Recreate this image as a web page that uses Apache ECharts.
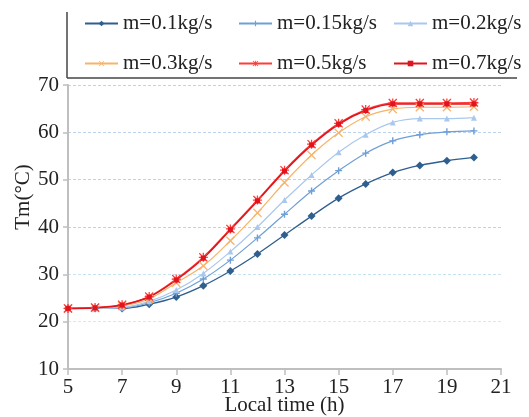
<!DOCTYPE html>
<html>
<head>
<meta charset="utf-8">
<script src="https://cdn.jsdelivr.net/npm/echarts@6/dist/echarts.min.js"></script>
<style>
  html, body { margin: 0; padding: 0; background: #fff; }
  #chart { width: 529px; height: 417px; }
</style>
</head>
<body>
<div id="chart"></div>
<script>
// hours of the day
const hours = [5, 6, 7, 8, 9, 10, 11, 12, 13, 14, 15, 16, 17, 18, 19, 20]
// Tm values for each mass flow
const m01 = [22.8, 22.8, 22.8, 23.7, 25.2, 27.6, 30.7, 34.3, 38.3, 42.3, 46.1, 49.1, 51.5, 53.0, 54.0, 54.7]
const m015 = [22.8, 22.8, 22.9, 24.0, 26.0, 29.0, 33.0, 37.7, 42.7, 47.6, 51.9, 55.6, 58.2, 59.5, 60.1, 60.3]
const m02 = [22.8, 22.8, 23.0, 24.3, 26.7, 30.2, 34.8, 40.0, 45.7, 51.0, 55.8, 59.5, 62.1, 62.9, 62.9, 63.1]
const m03 = [22.8, 22.9, 23.3, 24.8, 28.2, 31.8, 37.1, 43.0, 49.4, 55.2, 59.9, 63.3, 64.9, 65.3, 65.3, 65.4]
const m05 = [22.8, 23.0, 23.6, 25.3, 29.0, 33.6, 39.6, 45.7, 52.0, 57.5, 61.9, 64.8, 66.2, 66.2, 66.2, 66.3]
const m07 = [22.8, 22.9, 23.5, 25.2, 28.8, 33.4, 39.4, 45.5, 51.8, 57.3, 61.7, 64.6, 66.0, 66.0, 66.0, 66.0]
const seriesNames = ['m=0.1kg/s', 'm=0.15kg/s', 'm=0.2kg/s', 'm=0.3kg/s', 'm=0.5kg/s', 'm=0.7kg/s']

const font = '"Liberation Serif", "Times New Roman", serif'
const plusPath = 'path://M4,0H6V4H10V6H6V10H4V6H0V4H4Z'
const crossPath = 'path://M1,0L5,4L9,0L10,1L6,5L10,9L9,10L5,6L1,10L0,9L4,5L0,1Z'
const starPath = 'path://M1,0L5,4L9,0L10,1L6,5L10,9L9,10L5,6L1,10L0,9L4,5L0,1ZM0,4.3H10V5.7H0ZM4.3,0H5.7V10H4.3Z'

const toPairs = arr => arr.map((v, i) => [hours[i], v])

function makeSeries(name, data, color, symbol, size, width) {
    return {
        name,
        type: 'line',
        data: toPairs(data),
        smooth: 0.35,
        symbol,
        symbolSize: size,
        showAllSymbol: true,
        lineStyle: { color, width: width || 1.2 },
        itemStyle: { color },
        z: 2
    }
}

// one legend per entry so the three columns line up like the original
const legendCols = [79, 233, 388]
const legendRows = [8, 48]
const legends = seriesNames.map((name, i) => ({
    data: [name],
    left: legendCols[i % 3],
    top: legendRows[Math.floor(i / 3)],
    itemWidth: 33, itemHeight: 7,
    textStyle: { fontFamily: font, fontSize: 21, color: '#222' }
}))

const chart = echarts.init(document.getElementById('chart'))
const option = {
    animation: false,
    grid: { left: 68, right: 28, top: 85, bottom: 48, outerBoundsMode: 'none', containLabel: false },
    legend: legends,
    graphic: [
        { type: 'line', shape: { x1: 67, y1: 12, x2: 67, y2: 78 }, style: { stroke: '#444', lineWidth: 1.5 } },
        { type: 'line', shape: { x1: 67, y1: 78, x2: 517, y2: 78 }, style: { stroke: '#444', lineWidth: 1.5 } }
    ],
    xAxis: {
        type: 'value',
        min: 5, max: 21, interval: 2,
        name: 'Local time (h)',
        nameLocation: 'middle',
        nameGap: 26,
        nameMoveOverlap: false,
        nameTextStyle: { fontFamily: font, fontSize: 21, color: '#222' },
        axisLine: { lineStyle: { color: '#bfbfbf', width: 2 } },
        axisTick: { show: true, length: 6, lineStyle: { color: '#bfbfbf', width: 1.5 } },
        axisLabel: { fontFamily: font, fontSize: 21, color: '#222', margin: 8 },
        splitLine: { show: false }
    },
    yAxis: {
        type: 'value',
        min: 10, max: 70, interval: 10,
        name: 'Tm(°C)',
        nameLocation: 'middle',
        nameGap: 34,
        nameMoveOverlap: false,
        nameRotate: 90,
        nameTextStyle: { fontFamily: font, fontSize: 21, color: '#222', padding: [0, 0, 0, 60] },
        axisLine: { show: true, lineStyle: { color: '#bfbfbf', width: 2 } },
        axisTick: { show: true, length: 5, lineStyle: { color: '#bfbfbf', width: 1.5 } },
        axisLabel: { fontFamily: font, fontSize: 21, color: '#222', margin: 9 },
        splitLine: {
            show: true,
            lineStyle: { color: ['#ffffff', '#e4e4e4', '#c8e4f2', '#bcd3f0', '#bcd3f0', '#bcd3f0', '#bcd3f0'], type: [3, 2], width: 1 }
        }
    },
    series: [
        makeSeries(seriesNames[0], m01, '#2f5f8f', 'diamond', 8, 1.3),
        makeSeries(seriesNames[1], m015, '#6e9fd6', plusPath, 7),
        makeSeries(seriesNames[2], m02, '#a9c8ee', 'triangle', 6),
        makeSeries(seriesNames[3], m03, '#f8b368', crossPath, 9),
        makeSeries(seriesNames[4], m05, '#ff3b3b', starPath, 9, 1.5),
        makeSeries(seriesNames[5], m07, '#e0141c', 'rect', 5, 1.5)
    ]
}
chart.setOption(option)
window.addEventListener('resize', () => {
    chart.resize()
})
</script>
</body>
</html>
